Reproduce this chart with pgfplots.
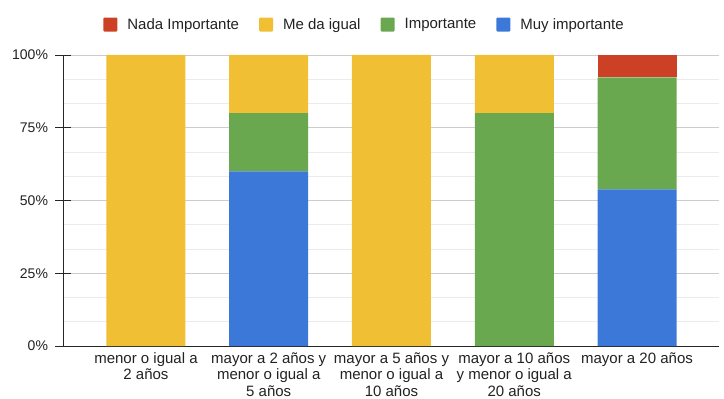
\documentclass[border=0pt]{standalone}
\usepackage{pgfplots}
\pgfplotsset{compat=1.18}
\usepackage{fontspec}
\setmainfont{Liberation Sans}
\definecolor{cRed}{HTML}{CC4125}
\definecolor{cYel}{HTML}{F1BF33}
\definecolor{cGrn}{HTML}{6AA84F}
\definecolor{cBlu}{HTML}{3C78D8}
\definecolor{cTxt}{HTML}{222222}
\begin{document}
\begin{tikzpicture}
\useasboundingbox (-63bp,-53bp) rectangle (661bp,346bp);
\begin{axis}[
  at={(0,0)}, anchor=south west,
  scale only axis, width=656bp, height=291bp,
  ybar stacked, bar width=79bp,
  xmin=-0.676, xmax=4.668, ymin=0, ymax=100,
  axis x line*=bottom, axis y line*=left,
  axis line style={-, draw=black!85},
  xtick={0,1,2,3,4},
  xticklabels={{menor o igual a\\2 años},{mayor a 2 años y\\menor o igual a\\5 años},{mayor a 5 años y\\menor o igual a\\10 años},{mayor a 10 años\\y menor o igual a\\20 años},{mayor a 20 años}},
  xticklabel style={align=center, font=\fontsize{15bp}{16.5bp}\selectfont, text=cTxt, anchor=north, yshift=4.5bp},
  x tick style={draw=none},
  ytick={0,25,50,75,100},
  yticklabels={0\%,25\%,50\%,75\%,100\%},
  yticklabel style={font=\fontsize{14bp}{16bp}\selectfont, text=cTxt, xshift=-4bp},
  /pgf/number format/assume math mode=true,
  tick align=center, major tick length=15bp,
  y tick style={draw=black!85, thick},
  minor y tick num=2, minor tick length=0pt,
  ymajorgrids, yminorgrids,
  major grid style={draw=black!20, line width=0.8pt},
  minor grid style={draw=black!8, line width=0.8pt},
  legend columns=4, reverse legend,
  legend style={at={(rel axis cs:0.4596,1.1048)}, anchor=center, draw=none, fill=none,
    font=\fontsize{15bp}{17bp}\selectfont, text=cTxt,
    /tikz/every odd column/.append style={column sep=8bp},
    /tikz/every even column/.append style={column sep=18bp}},
  legend image code/.code={\fill[#1, draw=none, rounded corners=1bp] (0bp,-7bp) rectangle (14bp,7bp);},
]
\addplot[fill=cBlu, draw=none] coordinates {(0,0) (1,60) (2,0) (3,0) (4,53.85)};
\addlegendentry{Muy importante}
\addplot[fill=cGrn, draw=none] coordinates {(0,0) (1,20) (2,0) (3,80) (4,38.46)};
\addlegendentry{Importante}
\addplot[fill=cYel, draw=none] coordinates {(0,100) (1,20) (2,100) (3,20) (4,0)};
\addlegendentry{Me da igual}
\addplot[fill=cRed, draw=none] coordinates {(0,0) (1,0) (2,0) (3,0) (4,7.69)};
\addlegendentry{Nada Importante}
\end{axis}
\end{tikzpicture}
\end{document}
